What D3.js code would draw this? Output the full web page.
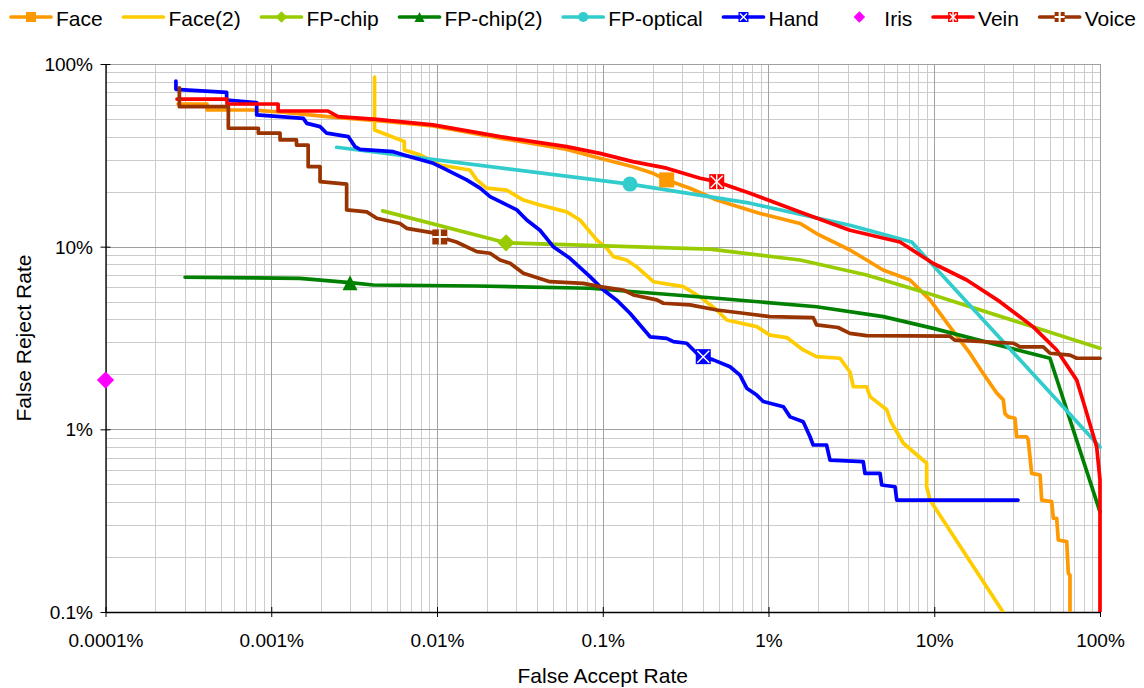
<!DOCTYPE html>
<html><head><meta charset="utf-8">
<script src="https://cdn.jsdelivr.net/npm/d3@7"></script>
<style>
body{margin:0;background:#fff;}
svg text{font-family:"Liberation Sans",Arial,Helvetica,sans-serif;fill:#000;}
</style>
</head><body>
<svg id="chart" width="1144" height="688"></svg>
<script>
// ---------- DATA (FAR %, FRR %) ----------
const seriesNames = ["Face","Face(2)","FP-chip","FP-chip(2)","FP-optical","Hand","Iris","Vein","Voice"];
const xTickValues = [0.0001,0.001,0.01,0.1,1,10,100];
const xTickLabels = ["0.0001%","0.001%","0.01%","0.1%","1%","10%","100%"];
const yTickValues = [0.1,1,10,100];
const yTickLabels = ["0.1%","1%","10%","100%"];

const face = [[0.000274,60.4],[0.00041,60.4],[0.00041,56.0],[0.000776,56.0],[0.00113,54.6],[0.00226,51.3],[0.00453,48.8],[0.00946,45.8],[0.024,39.3],[0.060,34.2],[0.0962,30.5],[0.152,27.4],[0.201,25.2],[0.243,23.2],[0.336,20.9],[0.487,18.0],[0.889,15.2],[1.55,13.4],[1.95,11.8],[3.10,9.59],[3.91,8.45],[4.91,7.45],[7.14,6.57],[9.43,5.11],[12.4,3.65],[16.4,2.61],[19.7,2.03],[23.8,1.58],[26.1,1.45],[26.7,1.22],[28.0,1.17],[30.7,1.15],[31.4,0.911],[36.1,0.911],[36.9,0.874],[38.7,0.574],[43.5,0.562],[44.5,0.410],[51.1,0.402],[52.3,0.326],[54.8,0.326],[56.0,0.248],[63.0,0.243],[64.4,0.163],[65.9,0.159],[65.9,0.1]];
const face2 = [[0.0042,84.9],[0.0042,43.5],[0.00635,37.6],[0.00635,33.8],[0.0079,31.8],[0.0104,28.0],[0.0158,26.3],[0.0174,23.2],[0.0199,20.9],[0.0263,20.4],[0.0332,18.0],[0.0418,16.9],[0.0606,15.5],[0.0729,14.0],[0.0919,10.9],[0.106,9.80],[0.116,8.82],[0.139,8.45],[0.160,7.77],[0.202,6.43],[0.306,6.04],[0.386,5.32],[0.487,4.50],[0.560,3.97],[0.849,3.65],[1.02,3.28],[1.29,3.18],[1.62,2.72],[1.95,2.50],[2.70,2.45],[3.10,2.06],[3.25,1.71],[3.91,1.71],[4.10,1.51],[5.17,1.28],[5.48,1.10],[6.51,0.839],[9.0,0.652],[9.0,0.485],[9.43,0.41],[26.0,0.1]];
const fpChip = [[0.0047,15.7],[0.0261,10.5],[0.444,9.69],[1.55,8.45],[3.91,7.0],[9.87,5.44],[100,2.78]];
const fpChip2 = [[0.000302,6.80],[0.00149,6.71],[0.00299,6.35],[0.00413,6.17],[0.0174,6.09],[0.0838,5.92],[0.487,5.22],[1.95,4.69],[4.93,4.14],[9.87,3.57],[49.9,2.45],[100,0.353]];
const fpOptical = [[0.00248,35.0],[0.146,22.0],[0.773,17.3],[3.10,13.1],[7.31,10.6],[100,0.80]];
const hand = [[0.000266,80.7],[0.000266,72.7],[0.000538,70.0],[0.000538,63.5],[0.000817,61.4],[0.000817,52.6],[0.00156,50.4],[0.00164,47.3],[0.00197,45.4],[0.00216,41.8],[0.00292,40.0],[0.0032,35.3],[0.00343,34.1],[0.00545,33.1],[0.00687,31.1],[0.0095,28.6],[0.0109,26.9],[0.0151,23.2],[0.0182,20.9],[0.0209,18.8],[0.0251,17.3],[0.0303,15.9],[0.0348,14.0],[0.0418,12.3],[0.0503,10.0],[0.0634,8.64],[0.0838,6.85],[0.101,5.79],[0.121,5.11],[0.146,4.32],[0.193,3.21],[0.243,3.15],[0.267,3.02],[0.321,2.96],[0.369,2.61],[0.404,2.50],[0.465,2.40],[0.586,2.20],[0.673,1.98],[0.739,1.68],[0.849,1.54],[0.930,1.42],[1.23,1.33],[1.35,1.17],[1.62,1.10],[1.78,0.911],[1.86,0.821],[2.24,0.821],[2.35,0.679],[3.73,0.665],[3.82,0.574],[4.71,0.574],[4.82,0.496],[5.80,0.485],[5.94,0.41],[32.0,0.41]];
const iris = [[0.0001,1.86]];
const vein = [[0.00027,64.3],[0.000541,64.3],[0.000541,60.4],[0.0011,60.4],[0.0011,55.3],[0.0022,55.3],[0.00253,51.5],[0.00433,49.8],[0.00946,46.4],[0.024,40.0],[0.0606,35.3],[0.0962,32.4],[0.152,29.2],[0.243,26.9],[0.387,23.7],[0.487,22.7],[0.773,19.6],[1.55,15.5],[3.10,12.3],[6.21,10.6],[9.87,8.09],[15.7,6.57],[24.9,5.0],[39.4,3.65],[54.8,2.72],[72.4,1.86],[83.1,1.23],[95.5,0.80],[100,0.53],[100,0.1]];
const voice = [[0.000279,74.0],[0.000279,58.4],[0.000551,58.4],[0.000551,44.5],[0.000836,44.5],[0.000836,41.8],[0.00113,41.8],[0.00113,38.4],[0.00142,38.4],[0.00142,36.0],[0.00167,36.0],[0.00167,27.4],[0.00197,27.4],[0.00197,22.7],[0.00285,22.0],[0.00285,15.9],[0.00377,15.5],[0.00433,14.3],[0.00598,13.4],[0.00656,12.6],[0.0095,11.9],[0.0104,11.3],[0.0131,10.6],[0.0174,9.39],[0.0209,9.20],[0.024,8.45],[0.0276,8.11],[0.0332,7.15],[0.048,6.43],[0.0763,6.30],[0.0962,6.04],[0.133,5.79],[0.153,5.44],[0.212,5.11],[0.232,4.90],[0.336,4.80],[0.487,4.50],[0.705,4.32],[1.02,4.14],[1.86,4.09],[1.95,3.73],[2.63,3.61],[3.10,3.35],[3.91,3.26],[12.4,3.24],[13.3,3.08],[30.0,2.96],[32.9,2.83],[45.5,2.83],[49.9,2.61],[65.9,2.55],[72.4,2.45],[100,2.45]];

const markerPoints = [[0.243,23.2],null,[0.0261,10.5],[0.00299,6.35],[0.146,22.0],[0.404,2.50],[0.0001,1.86],[0.487,22.7],[0.0104,11.3]];
const seriesData = [face,face2,fpChip,fpChip2,fpOptical,hand,iris,vein,voice];

// ---------- STYLE ----------
const colors = ["#FF9900","#FFCC00","#99CC00","#008000","#33CCCC","#0000FF","#FF00FF","#FF0000","#993300"];
const markerTypes = ["square",null,"diamond","triangle","circle","xbox","diamond","starbox","plusbox"];
const hasLine = [true,true,true,true,true,true,false,true,true];

const svg = d3.select("#chart");
const W = 1144, H = 688;
const plot = {left:105.5, right:1100, top:64, bottom:612};
const LW = 3.7;

const x = d3.scaleLog().domain([0.0001,100]).range([plot.left, plot.right]);
const y = d3.scaleLog().domain([0.1,100]).range([plot.bottom, plot.top]);

svg.append("rect").attr("width",W).attr("height",H).attr("fill","#fff");

// gridlines
const grid = svg.append("g");
function minorVals(dom){
  const out=[];
  for(let d=dom[0]; d<dom[1]*0.999; d*=10){ for(let k=2;k<=9;k++) out.push(d*k); }
  return out;
}
grid.selectAll(".vx").data(minorVals(x.domain())).join("line")
  .attr("x1",d=>Math.round(x(d))+0.5).attr("x2",d=>Math.round(x(d))+0.5)
  .attr("y1",plot.top).attr("y2",plot.bottom).attr("stroke","#cccccc").attr("stroke-width",1);
grid.selectAll(".hy").data(minorVals(y.domain())).join("line")
  .attr("y1",d=>Math.round(y(d))+0.5).attr("y2",d=>Math.round(y(d))+0.5)
  .attr("x1",plot.left).attr("x2",plot.right).attr("stroke","#cccccc").attr("stroke-width",1);
grid.selectAll(".VX").data(xTickValues).join("line")
  .attr("x1",d=>Math.round(x(d))+0.5).attr("x2",d=>Math.round(x(d))+0.5)
  .attr("y1",plot.top).attr("y2",plot.bottom).attr("stroke","#a0a0a0").attr("stroke-width",1);
grid.selectAll(".HY").data(yTickValues).join("line")
  .attr("y1",d=>Math.round(y(d))+0.5).attr("y2",d=>Math.round(y(d))+0.5)
  .attr("x1",plot.left).attr("x2",plot.right).attr("stroke","#a0a0a0").attr("stroke-width",1);

// axes
const xAxis = d3.axisBottom(x).tickValues(xTickValues).tickFormat((d,i)=>xTickLabels[i]).tickSize(5).tickSizeOuter(0);
const gx = svg.append("g").attr("transform",`translate(0,${plot.bottom})`).call(xAxis);
gx.select(".domain").attr("stroke","#000").attr("stroke-width",1.3);
gx.selectAll(".tick line").attr("y1",-5).attr("y2",5).attr("stroke","#000");
gx.selectAll(".tick text").attr("y",35).attr("dy",0).style("font-size","19px").style("font-family","Liberation Sans, Arial, sans-serif").attr("fill","#000");

const yAxis = d3.axisLeft(y).tickValues(yTickValues).tickFormat((d,i)=>yTickLabels[i]).tickSize(5).tickSizeOuter(0);
const gy = svg.append("g").attr("transform",`translate(${plot.left},0)`).call(yAxis);
gy.select(".domain").attr("stroke","#000").attr("stroke-width",1.3);
gy.selectAll(".tick line").attr("x1",5).attr("x2",-5).attr("stroke","#000");
gy.selectAll(".tick text").attr("x",-12.5).attr("dy","0.35em").style("font-size","19px").style("font-family","Liberation Sans, Arial, sans-serif").attr("fill","#000");

// clip
svg.append("clipPath").attr("id","clip").append("rect")
  .attr("x",plot.left).attr("y",plot.top-2).attr("width",plot.right-plot.left+3).attr("height",plot.bottom-plot.top+2);

const line = d3.line().x(d=>x(d[0])).y(d=>y(d[1]));
const lines = svg.append("g").attr("clip-path","url(#clip)");

function drawMarker(g, type, color, s){
  const h = s/2;
  if(type==="square"){
    g.append("rect").attr("x",-h).attr("y",-h).attr("width",s).attr("height",s).attr("fill",color);
  } else if(type==="diamond"){
    const r = h*1.15;
    g.append("path").attr("d",`M0,${-r}L${r},0L0,${r}L${-r},0Z`).attr("fill",color);
  } else if(type==="triangle"){
    g.append("path").attr("d",`M0,${-h}L${h},${h}L${-h},${h}Z`).attr("fill",color);
  } else if(type==="circle"){
    g.append("circle").attr("r",h).attr("fill",color);
  } else if(type==="xbox"||type==="starbox"||type==="plusbox"){
    g.append("rect").attr("x",-h).attr("y",-h).attr("width",s).attr("height",s).attr("fill",color);
    const k = h-1.5;
    const p = g.append("g").attr("stroke","#fff").attr("stroke-width",1.4);
    if(type==="xbox"||type==="starbox"){
      p.append("line").attr("x1",-k).attr("y1",-k).attr("x2",k).attr("y2",k);
      p.append("line").attr("x1",-k).attr("y1",k).attr("x2",k).attr("y2",-k);
    }
    if(type==="starbox"){
      p.append("line").attr("x1",0).attr("y1",-h).attr("x2",0).attr("y2",h);
    }
    if(type==="plusbox"){
      p.attr("stroke-width",2);
      p.append("line").attr("x1",0).attr("y1",-h).attr("x2",0).attr("y2",h);
      p.append("line").attr("x1",-h).attr("y1",0).attr("x2",h).attr("y2",0);
    }
  }
}

seriesData.forEach((data,i)=>{
  if(hasLine[i]){
    lines.append("path").datum(data).attr("d",line)
      .attr("fill","none").attr("stroke",colors[i]).attr("stroke-width",LW)
      .attr("stroke-linejoin","round").attr("stroke-linecap","round");
  }
  const m = markerPoints[i];
  if(m && markerTypes[i]){
    const g = svg.append("g").attr("transform",`translate(${x(m[0])},${y(m[1])})`);
    drawMarker(g, markerTypes[i], colors[i], 15);
  }
});

// legend
const legend = svg.append("g");
let lx = 11;
const ly = 17;
seriesNames.forEach((name,i)=>{
  const g = legend.append("g");
  if(hasLine[i]){
    g.append("line").attr("x1",lx).attr("x2",lx+40).attr("y1",ly).attr("y2",ly)
      .attr("stroke",colors[i]).attr("stroke-width",LW).attr("stroke-linecap","round");
  }
  if(markerTypes[i]){
    const mg = g.append("g").attr("transform",`translate(${lx+20},${ly})`);
    drawMarker(mg, markerTypes[i], colors[i], 10);
  }
  const t = g.append("text").attr("x",lx+45).attr("y",ly+8.5).style("font-size","21px").text(name);
  lx += 45 + t.node().getComputedTextLength() + 20.7;
});

// axis titles
svg.append("text").attr("x",(plot.left+plot.right)/2).attr("y",683).attr("text-anchor","middle")
  .style("font-size","21px").text("False Accept Rate");
svg.append("text").attr("transform",`translate(31,${(plot.top+plot.bottom)/2}) rotate(-90)`).attr("text-anchor","middle")
  .style("font-size","21px").text("False Reject Rate");
</script>
</body></html>
